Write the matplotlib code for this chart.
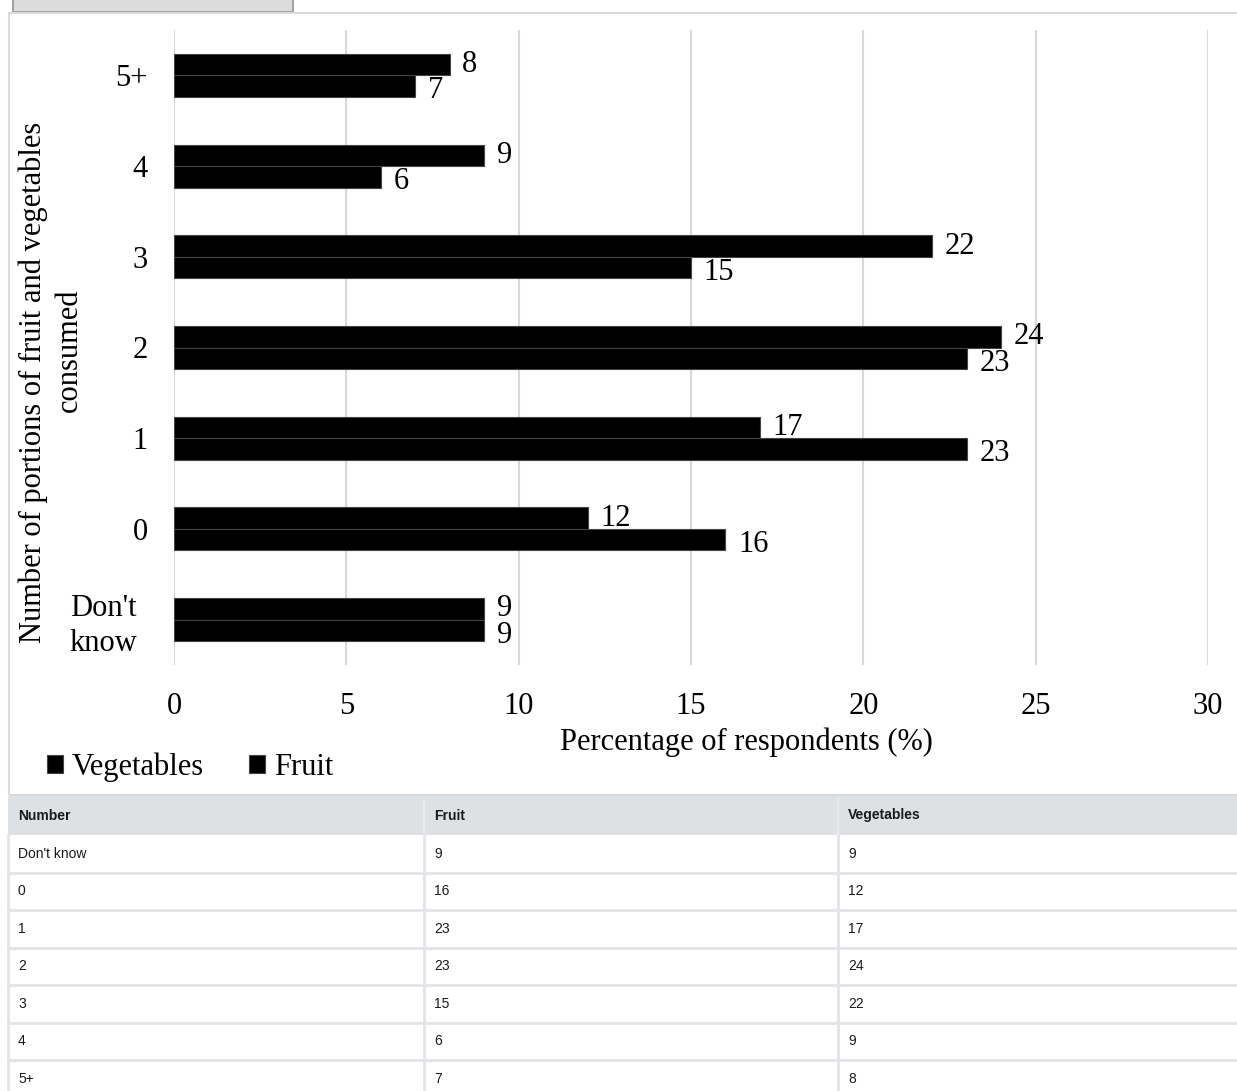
import matplotlib
matplotlib.use("Agg")
import matplotlib.pyplot as plt
import numpy as np
from matplotlib.patches import Rectangle
from matplotlib.lines import Line2D
from matplotlib.transforms import ScaledTranslation

categories = ["Don't know", "0", "1", "2", "3", "4", "5+"]
tick_labels = ["Don't\nknow", "0", "1", "2", "3", "4", "5+"]
fruit = [9, 16, 23, 23, 15, 6, 7]
vegetables = [9, 12, 17, 24, 22, 9, 8]
x_ticks = [0, 5, 10, 15, 20, 25, 30]

W, H = 1237, 1091
fig = plt.figure(figsize=(W / 100, H / 100), dpi=100)
fig.patch.set_facecolor("white")

def fx(x):
    return x / W

def fy(y):
    return 1 - y / H

SERIF = ["Liberation Serif", "DejaVu Serif"]
SANS = ["Liberation Sans", "DejaVu Sans"]
FS = 22

# top grey box
fig.add_artist(Rectangle((fx(12.5), fy(12)), fx(293) - fx(12.5), 14 / H,
                         transform=fig.transFigure, facecolor="#dcdcdc",
                         edgecolor="#a3a3a3", lw=1.5, zorder=0))
# chart panel border
fig.add_artist(Rectangle((fx(8.5), fy(795)), fx(1245) - fx(8.5), (795 - 12.5) / H,
                         transform=fig.transFigure, facecolor="none",
                         edgecolor="#dadada", lw=1.5, zorder=0))

ax = fig.add_axes([fx(174), fy(665), (1208 - 174) / W, (665 - 30) / H])
y = np.arange(len(categories))
h = 0.237
veg_bars = ax.barh(y + h / 2, vegetables, height=h, color="black",
                   edgecolor="#444444", linewidth=0.8, zorder=3, label="Vegetables")
fruit_bars = ax.barh(y - h / 2, fruit, height=h, color="black",
                     edgecolor="#444444", linewidth=0.8, zorder=3, label="Fruit")

for bars, vals, dy in ((veg_bars, vegetables, 0.0), (fruit_bars, fruit, -3.5)):
    for b, v in zip(bars, vals):
        ax.annotate(str(v), (b.get_width(), b.get_y() + b.get_height() / 2),
                    xytext=(9, dy), textcoords="offset points", ha="left",
                    va="center", fontsize=FS, family=SERIF, color="black", zorder=4)

ax.set_xlim(0, 30)
ax.set_ylim(-0.5, len(categories) - 0.5)
ax.set_xticks(x_ticks)
ax.set_xticklabels([str(t) for t in x_ticks], family=SERIF, fontsize=FS)
ax.set_yticks(y)
ax.set_yticklabels(tick_labels, family=SERIF, fontsize=FS, multialignment="center")
ax.tick_params(axis="x", length=0, pad=19.5)
ax.tick_params(axis="y", length=0, pad=19)
for s in ax.spines.values():
    s.set_visible(False)
ax.grid(axis="x", color="#d9d9d9", linewidth=1.5, zorder=0)
ax.set_axisbelow(True)

# shift the wrapped label left as in the reference
lbl = ax.get_yticklabels()[0]
lbl.set_linespacing(1.27)
lbl.set_transform(lbl.get_transform() + ScaledTranslation(-0.10, 0, fig.dpi_scale_trans))

# y-axis title (wrapped over two lines, as in the reference)
fig.text(fx(33), fy(382), "Number of portions of fruit and vegetables",
         rotation=90, ha="center", va="center", fontsize=FS, family=SERIF)
fig.text(fx(69), fy(350), "consumed",
         rotation=90, ha="center", va="center", fontsize=FS, family=SERIF)
fig.text(fx(746), fy(742), "Percentage of respondents (%)", ha="center", va="center",
         fontsize=FS, family=SERIF)

fig.legend([veg_bars, fruit_bars], ["Vegetables", "Fruit"], loc="center left",
           bbox_to_anchor=(fx(47), fy(767)), ncol=2, frameon=False, borderpad=0,
           borderaxespad=0, handlelength=0.52, handleheight=0.52, handletextpad=0.28,
           columnspacing=1.5, prop={"family": SERIF, "size": FS})

# data table below the chart
col_x = [8, 424, 838]
header = ["Number", "Fruit", "Vegetables"]
row_top = 835
row_h = 37.5
head_top = 796
LINE = "#e2e4e7"
fig.add_artist(Rectangle((fx(8), fy(row_top)), fx(1245) - fx(8), (row_top - head_top) / H,
                         transform=fig.transFigure, facecolor="#dee1e4",
                         edgecolor="none", zorder=1))
for i, t in enumerate(header):
    fig.text(fx(col_x[i] + 10), fy((head_top + row_top) / 2), t, ha="left",
             va="center", fontsize=10, family=SANS, fontweight="bold", color="#1a1a1a")
rows = list(zip(categories, fruit, vegetables))
n = len(rows)
for r, vals in enumerate(rows):
    top = row_top + r * row_h
    for i, t in enumerate(vals):
        fig.text(fx(col_x[i] + 10), fy(top + row_h / 2), str(t), ha="left",
                 va="center", fontsize=10, family=SANS, color="#1a1a1a")
    fig.add_artist(Line2D([fx(8), fx(1245)], [fy(top + row_h)] * 2,
                          transform=fig.transFigure, color=LINE, lw=2, zorder=2))
for cx in col_x:
    fig.add_artist(Line2D([fx(cx), fx(cx)], [fy(row_top), fy(row_top + n * row_h)],
                          transform=fig.transFigure, color=LINE, lw=2, zorder=2))
for cx in col_x[1:]:
    fig.add_artist(Line2D([fx(cx), fx(cx)], [fy(head_top + 3), fy(row_top)],
                          transform=fig.transFigure, color="#e8eaec", lw=1.5, zorder=2))

fig.savefig("out.png", dpi=100)
